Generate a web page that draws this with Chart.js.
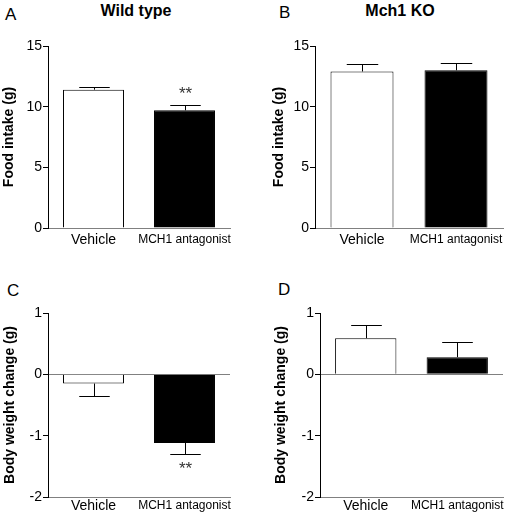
<!DOCTYPE html>
<html>
<head>
<meta charset="utf-8">
<script src="https://cdn.jsdelivr.net/npm/chart.js@4.4.0/dist/chart.umd.min.js"></script>
<style>
  body { margin: 0; background: #fff; width: 505px; height: 518px; position: relative; overflow: hidden;
         font-family: "Liberation Sans", Arial, sans-serif; }
  canvas { position: absolute; }
  .letter { position: absolute; font-size: 17px; line-height: 1; color: #000; }
  .title { position: absolute; font-size: 16px; font-weight: bold; line-height: 1; color: #000;
           transform: translateX(-50%); white-space: nowrap; }
</style>
</head>
<body>
<div class="letter" style="left:5px; top:6px">A</div>
<div class="title" style="left:136px; top:3px">Wild type</div>
<div class="letter" style="left:279px; top:4px">B</div>
<div class="title" style="left:400px; top:3px">Mch1 KO</div>
<div class="letter" style="left:7px; top:282px">C</div>
<div class="letter" style="left:278px; top:281px">D</div>

<canvas id="panelA" width="250" height="260" style="left:0; top:0"></canvas>
<canvas id="panelB" width="255" height="260" style="left:250px; top:0"></canvas>
<canvas id="panelC" width="250" height="258" style="left:0; top:260px"></canvas>
<canvas id="panelD" width="255" height="258" style="left:250px; top:260px"></canvas>

<script>
const categories = ['Vehicle', 'MCH1 antagonist'];

// food intake (g), mean and SEM
const foodWT = [11.4, 9.7];
const foodWTErr = [0.25, 0.45];
const foodKO = [12.9, 13.0];
const foodKOErr = [0.65, 0.6];

// body weight change (g)
const weightWT = [-0.15, -1.12];
const weightWTErr = [0.2, 0.18];
const weightKO = [0.59, 0.28];
const weightKOErr = [0.22, 0.24];

const sigWT = ['', '**'];
const sigKO = ['', ''];

const foodTicks = [0, 5, 10, 15];
const weightTicks = [-2, -1, 0, 1];

Chart.defaults.font.family = '"Liberation Sans", Arial, sans-serif';
Chart.defaults.color = '#000';

const errorBars = {
  id: 'errorBars',
  afterDatasetsDraw(chart) {
    const ctx = chart.ctx;
    const yScale = chart.scales.y;
    const ds = chart.data.datasets[0];
    const meta = chart.getDatasetMeta(0);
    ctx.save();
    ctx.strokeStyle = '#000';
    ctx.lineWidth = 1;
    meta.data.forEach((bar, i) => {
      const v = ds.data[i];
      const dir = v >= 0 ? 1 : -1;
      const yv = yScale.getPixelForValue(v);
      const ye = Math.round(yScale.getPixelForValue(v + dir * ds.errors[i])) + 0.5;
      const x = Math.round(bar.x) + 0.5;
      const half = bar.width / 4;
      ctx.beginPath();
      ctx.moveTo(x, yv);
      ctx.lineTo(x, ye);
      ctx.moveTo(x - half, ye);
      ctx.lineTo(x + half, ye);
      ctx.stroke();
      if (ds.stars[i]) {
        ctx.fillStyle = '#333';
        ctx.font = '17px "Liberation Sans", Arial, sans-serif';
        ctx.textAlign = 'center';
        ctx.textBaseline = 'middle';
        ctx.fillText(ds.stars[i], x, ye - dir * 13 + 2);
      }
    });
    ctx.restore();
  }
};

function makePanel(id, values, errors, stars, tickList, yTitle, geo) {
  const canvas = document.getElementById(id);
  return new Chart(canvas, {
    type: 'bar',
    data: {
      labels: categories,
      datasets: [{
        data: values,
        errors: errors,
        stars: stars,
        backgroundColor: ['#ffffff', '#000000'],
        borderColor: '#000',
        borderWidth: 1,
        barPercentage: 0.67,
        categoryPercentage: 1.0
      }]
    },
    options: {
      responsive: false,
      animation: false,
      events: [],
      layout: { padding: { left: geo.padLeft, top: geo.padTop, right: geo.padRight, bottom: 0 } },
      plugins: { legend: { display: false }, tooltip: { enabled: false } },
      scales: {
        x: {
          type: 'category',
          offset: true,
          grid: { display: true, drawOnChartArea: false, drawTicks: false, color: 'rgba(0,0,0,0)' },
          border: { display: true, color: '#808080', width: 1 },
          ticks: {
            padding: geo.xPad,
            maxRotation: 0,
            autoSkip: false,
            color: '#000',
            font: (c) => c.index === 0 ? { size: 14 } : { size: 12 }
          },
          afterFit: (s) => { s.height = geo.xHeight; s.paddingLeft = 0; s.paddingRight = 0; }
        },
        y: {
          min: tickList[0],
          max: tickList[tickList.length - 1],
          afterBuildTicks: (s) => { s.ticks = tickList.map(v => ({ value: v })); },
          grid: {
            drawOnChartArea: geo.zeroLine,
            drawTicks: true,
            tickLength: 5,
            tickColor: '#000',
            color: (c) => (c.tick && c.tick.value === 0) ? '#808080' : 'rgba(0,0,0,0)'
          },
          border: { display: true, color: '#000', width: 1 },
          ticks: { padding: 1, color: '#000', font: { size: 14 } },
          title: {
            display: true,
            text: yTitle,
            color: '#000',
            font: { size: 14, weight: 'bold' },
            padding: { top: 0, bottom: 0 }
          },
          afterFit: (s) => { s.width = geo.yWidth; s.paddingTop = 0; s.paddingBottom = 0; }
        }
      }
    },
    plugins: [errorBars]
  });
}

makePanel('panelA', foodWT, foodWTErr, sigWT, foodTicks, 'Food intake (g)',
  { padLeft: 1, yWidth: 47, padTop: 46, padRight: 20, xHeight: 32, xPad: 4, zeroLine: false });
makePanel('panelB', foodKO, foodKOErr, sigKO, foodTicks, 'Food intake (g)',
  { padLeft: 21, yWidth: 44, padTop: 46, padRight: 2, xHeight: 32, xPad: 4, zeroLine: false });
makePanel('panelC', weightWT, weightWTErr, sigWT, weightTicks, 'Body weight change (g)',
  { padLeft: 2, yWidth: 46, padTop: 53, padRight: 20, xHeight: 21, xPad: 1, zeroLine: true });
makePanel('panelD', weightKO, weightKOErr, sigKO, weightTicks, 'Body weight change (g)',
  { padLeft: 23, yWidth: 47, padTop: 53, padRight: 2, xHeight: 21, xPad: 1, zeroLine: true });
</script>
</body>
</html>
